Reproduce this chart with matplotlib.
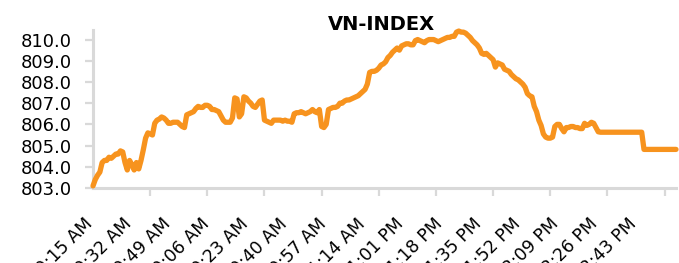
import matplotlib
matplotlib.use("Agg")
import matplotlib.pyplot as plt
import matplotlib.transforms as mtransforms
import numpy as np

title = "VN-INDEX"

# VN-Index intraday values, one per minute-point (9:15 AM ... 3:00 PM)
values = [
    803.1, 803.4, 803.6, 803.75, 804.2, 804.3, 804.3, 804.45, 804.4, 804.5,
    804.6, 804.6, 804.75, 804.7, 804.2, 803.85, 804.3, 804.1, 803.85, 804.2,
    803.9, 804.3, 804.8, 805.35, 805.6, 805.55, 805.5, 806.05, 806.2, 806.25,
    806.35, 806.3, 806.2, 806.05, 806.05, 806.1, 806.1, 806.1, 806.0, 805.9,
    805.85, 806.45, 806.5, 806.55, 806.6, 806.75, 806.85, 806.8, 806.8, 806.9,
    806.9, 806.85, 806.7, 806.7, 806.65, 806.6, 806.4, 806.2, 806.1, 806.1,
    806.1, 806.3, 807.25, 807.2, 806.35, 806.5, 807.3, 807.25, 807.1, 807.0,
    806.85, 806.8, 806.95, 807.1, 807.15, 806.2, 806.15, 806.1, 806.05, 806.2,
    806.2, 806.2, 806.2, 806.15, 806.2, 806.15, 806.15, 806.1, 806.5, 806.55,
    806.55, 806.6, 806.55, 806.5, 806.55, 806.6, 806.7, 806.6, 806.55, 806.7,
    805.9, 805.85, 806.0, 806.7, 806.75, 806.8, 806.8, 806.85, 807.0, 807.0,
    807.1, 807.15, 807.15, 807.2, 807.25, 807.3, 807.35, 807.45, 807.55, 807.65,
    807.9, 808.45, 808.5, 808.5, 808.55, 808.65, 808.8, 808.85, 808.95, 809.15,
    809.25, 809.4, 809.5, 809.6, 809.5, 809.7, 809.75, 809.8, 809.8, 809.75,
    809.75, 809.95, 810.0, 809.95, 809.9, 809.85, 809.95, 810.0, 810.0, 810.0,
    809.95, 809.9, 809.95, 810.0, 810.05, 810.1, 810.1, 810.15, 810.15, 810.35,
    810.4, 810.35, 810.35, 810.3, 810.2, 810.1, 809.95, 809.85, 809.75, 809.6,
    809.35, 809.3, 809.35, 809.25, 809.15, 809.05, 808.7, 808.9, 808.85, 808.8,
    808.6, 808.55, 808.5, 808.35, 808.25, 808.15, 808.1, 808.0, 807.9, 807.75,
    807.45, 807.35, 807.3, 806.85, 806.6, 806.2, 805.95, 805.55, 805.4, 805.35,
    805.35, 805.4, 805.9, 806.0, 806.0, 805.8, 805.65, 805.85, 805.85, 805.9,
    805.9, 805.85, 805.85, 805.8, 805.8, 806.05, 805.95, 806.0, 806.1, 806.05,
    805.85, 805.65, 805.63, 805.63, 805.63, 805.63, 805.63, 805.63, 805.63, 805.63,
    805.63, 805.63, 805.63, 805.63, 805.63, 805.63, 805.63, 805.63, 805.63, 805.63,
    805.63, 804.82, 804.82, 804.82, 804.82, 804.82, 804.82, 804.82, 804.82, 804.82,
    804.82, 804.82, 804.82, 804.82, 804.82, 804.82,
]

time_labels = ["9:15 AM", "9:32 AM", "9:49 AM", "10:06 AM", "10:23 AM",
               "10:40 AM", "10:57 AM", "11:14 AM", "1:01 PM", "1:18 PM",
               "1:35 PM", "1:52 PM", "2:09 PM", "2:26 PM", "2:43 PM"]
y_ticks = [803.0, 804.0, 805.0, 806.0, 807.0, 808.0, 809.0, 810.0]

label_step = 17
tick_step = 25

plt.rcParams['font.family'] = ['DejaVu Sans']

fig = plt.figure(figsize=(6.79, 2.63), dpi=100)
ax = fig.add_axes([93/679, 1-188/263, (676-93)/679, (188-30)/263])

x = np.arange(len(values))
ax.plot(x, values, color="#F7931E", linewidth=3.8, solid_joinstyle="round",
        solid_capstyle="round", zorder=3, clip_on=False)

ax.set_xlim(0, len(values) - 1)
ax.set_ylim(803.0, 810.45)

grey = "#D9D9D9"
for s in ["top", "right"]:
    ax.spines[s].set_visible(False)
for s in ["left", "bottom"]:
    ax.spines[s].set_color(grey)
    ax.spines[s].set_linewidth(2.2)

ax.set_yticks(y_ticks)
ax.set_yticklabels([f"{v:.1f}" for v in y_ticks])
ax.tick_params(axis="y", length=6, width=1.6, color=grey, pad=9,
               labelsize=13, labelcolor="black")

label_pos = [i * label_step for i in range(len(time_labels))]
ax.set_xticks(label_pos)
ax.set_xticklabels(time_labels, rotation=45, ha="right", va="center",
                   rotation_mode="anchor")
ax.tick_params(axis="x", which="major", length=0, pad=24, labelsize=12.5,
               labelcolor="black")
offset = mtransforms.ScaledTranslation(-3/100, 0, fig.dpi_scale_trans)
for lbl in ax.get_xticklabels():
    lbl.set_transform(lbl.get_transform() + offset)
ax.set_xticks(list(range(0, len(values), tick_step)), minor=True)
ax.tick_params(axis="x", which="minor", length=6, width=1.6, color=grey)

fig.text(381/679, 1-24/263, title, ha="center", va="center",
         fontsize=14, fontweight="bold")

fig.savefig("out.png", dpi=100)
